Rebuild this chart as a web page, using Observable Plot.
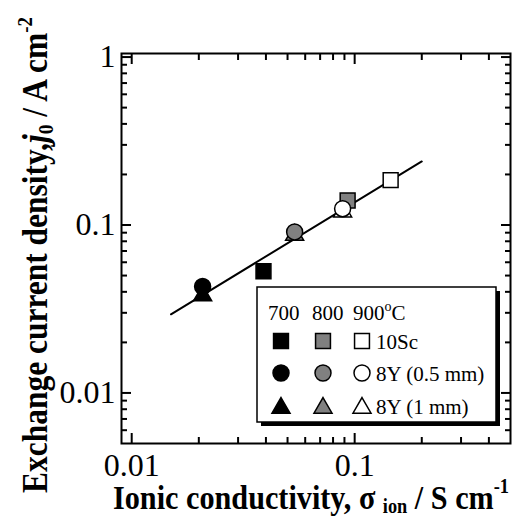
<!DOCTYPE html>
<html><head><meta charset="utf-8">
<script src="https://cdn.jsdelivr.net/npm/d3@7"></script>
<script src="https://cdn.jsdelivr.net/npm/@observablehq/plot@0.6"></script>
<style>
body{margin:0;background:#fff}
#chart svg, #chart svg text, #chart svg tspan { font-family: "Liberation Serif", "DejaVu Serif", serif !important; }
</style>
</head><body><div id="chart"></div>
<script>
// ---- data ----
const temperatures = [700, 800, 900];
const tempFills = ["#000000", "#808080", "#ffffff"];
const samples = ["10Sc", "8Y (0.5 mm)", "8Y (1 mm)"];
const sampleSymbols = ["square", "circle", "triangle"];
const sampleRadii = [8.4, 8, 6.7];
const sigma10Sc = [0.039, 0.093, 0.145];
const j10Sc = [0.053, 0.14, 0.185];
const sigma8Y05 = [0.0208, 0.0538, 0.0883];
const j8Y05 = [0.043, 0.091, 0.125];
const sigma8Y1 = [0.0208, 0.0538, 0.0883];
const j8Y1 = [0.038, 0.087, 0.12];
const fitSigma = [0.015, 0.2];
const fitJ = [0.0294, 0.239];
const xMajor = [0.01, 0.1];
const xMajorLabels = ["0.01", "0.1"];
const xMinor = [0.02,0.03,0.04,0.05,0.06,0.07,0.08,0.09,0.2,0.3,0.4];
const yMajor = [0.01, 0.1, 1];
const yMajorLabels = ["0.01", "0.1", "1"];
const yMinor = [0.006,0.007,0.008,0.009,0.02,0.03,0.04,0.05,0.06,0.07,0.08,0.09,0.2,0.3,0.4,0.5,0.6,0.7,0.8,0.9];
const xDomain = [0.009, 0.5];
const yDomain = [0.005, 1.05];

// ---- tables ----
const sigmaBySample = [sigma10Sc, sigma8Y05, sigma8Y1];
const jBySample = [j10Sc, j8Y05, j8Y1];
const points = [];
samples.forEach((s, si) => temperatures.forEach((t, ti) => points.push({
  sample: s, si, temp: t, fill: tempFills[ti], sigma: sigmaBySample[si][ti], j: jBySample[si][ti]
})));
const fit = fitSigma.map((x, i) => ({x, y: fitJ[i]}));
const xLab = new Map(xMajor.map((v, i) => [v, xMajorLabels[i]]));
const yLab = new Map(yMajor.map((v, i) => [v, yMajorLabels[i]]));

const serif = "Liberation Serif";
const empty = () => "";
const dotsFor = si => Plot.dot(points.filter(d => d.si === si), {
  x: "sigma", y: "j", symbol: () => sampleSymbols[si], r: sampleRadii[si],
  fill: "fill", stroke: "black", strokeWidth: 1.5
});

const plot = Plot.plot({
  width: 521, height: 518,
  marginLeft: 121, marginRight: 11, marginTop: 53, marginBottom: 75,
  style: {fontFamily: serif, fontSize: "32px", color: "black", background: "white"},
  x: {type: "log", domain: xDomain},
  y: {type: "log", domain: yDomain},
  symbol: {type: "identity"},
  color: {type: "identity"},
  marks: [
    Plot.line(fit, {x: "x", y: "y", stroke: "black", strokeWidth: 2}),
    dotsFor(0), dotsFor(2), dotsFor(1),
    Plot.frame({stroke: "black", strokeWidth: 2}),
    Plot.axisX(xMajor, {anchor: "bottom", tickSize: -10, tickPadding: 20, strokeWidth: 2, tickFormat: d => xLab.get(d), fontSize: 32, label: null}),
    Plot.axisX(xMajor, {anchor: "top", tickSize: -10, strokeWidth: 2, tickFormat: empty, label: null}),
    Plot.axisX(xMinor, {anchor: "bottom", tickSize: -6, strokeWidth: 2, tickFormat: empty, label: null}),
    Plot.axisX(xMinor, {anchor: "top", tickSize: -6, strokeWidth: 2, tickFormat: empty, label: null}),
    Plot.axisY(yMajor, {anchor: "left", tickSize: -10, tickPadding: 16, strokeWidth: 2, tickFormat: d => yLab.get(d), fontSize: 32, label: null}),
    Plot.axisY(yMajor, {anchor: "right", tickSize: -10, strokeWidth: 2, tickFormat: empty, label: null}),
    Plot.axisY(yMinor, {anchor: "left", tickSize: -6, strokeWidth: 2, tickFormat: empty, label: null}),
    Plot.axisY(yMinor, {anchor: "right", tickSize: -6, strokeWidth: 2, tickFormat: empty, label: null})
  ]
});
document.getElementById("chart").appendChild(plot);

// ---- axis titles (rich text) ----
const svg = d3.select(plot);
const yt = svg.append("text")
  .attr("transform", "translate(47,255) rotate(-90)")
  .attr("text-anchor", "middle")
  .attr("textLength", 476).attr("lengthAdjust", "spacingAndGlyphs")
  .attr("font-weight", "bold").attr("font-size", 35).attr("fill", "black");
yt.append("tspan").text("Exchange current density,");
yt.append("tspan").attr("font-style", "italic").text("j");
yt.append("tspan").attr("font-size", 22).attr("dy", 6).text("0");
yt.append("tspan").attr("dy", -6).text(" / A cm");
yt.append("tspan").attr("font-size", 21).attr("dy", -15).text("-2");

const xt = svg.append("text")
  .attr("x", 311).attr("y", 509)
  .attr("text-anchor", "middle")
  .attr("textLength", 396).attr("lengthAdjust", "spacingAndGlyphs")
  .attr("font-weight", "bold").attr("font-size", 33).attr("fill", "black");
xt.append("tspan").text("Ionic conductivity, σ ");
xt.append("tspan").attr("font-size", 20).attr("dy", 4).text("ion");
xt.append("tspan").attr("dy", -4).text(" / S cm");
xt.append("tspan").attr("font-size", 20).attr("dy", -16).text("-1");

// ---- legend ----
const lg = svg.append("g").attr("font-size", 21).attr("fill", "black").attr("text-anchor", "start");
lg.append("rect").attr("x", 261).attr("y", 291).attr("width", 239).attr("height", 135).attr("fill", "black");
lg.append("rect").attr("x", 257).attr("y", 287).attr("width", 239).attr("height", 135)
  .attr("fill", "white").attr("stroke", "black").attr("stroke-width", 1.5);
const colX = [281, 323, 362];
const headX = [268, 312, 353];
temperatures.forEach((t, i) => {
  const tx = lg.append("text").attr("x", headX[i]).attr("y", 320).attr("text-anchor", "start");
  tx.append("tspan").text(String(t));
  if (i === temperatures.length - 1) {
    tx.append("tspan").attr("font-size", 14).attr("dy", -9).text("o");
    tx.append("tspan").attr("dy", 9).text("C");
  }
});
const rowY = [341, 373, 408];
const labelY = [349, 381, 414];
const symbolTypes = {square: d3.symbolSquare, circle: d3.symbolCircle, triangle: d3.symbolTriangle};
samples.forEach((s, si) => {
  temperatures.forEach((t, ti) => {
    const r = sampleRadii[si];
    lg.append("path").attr("d", d3.symbol(symbolTypes[sampleSymbols[si]], Math.PI * r * r)())
      .attr("transform", `translate(${colX[ti]},${rowY[si]})`)
      .attr("fill", tempFills[ti]).attr("stroke", "black").attr("stroke-width", 1.5);
  });
  lg.append("text").attr("x", 376).attr("y", labelY[si]).attr("text-anchor", "start").text(s);
});
</script></body></html>
